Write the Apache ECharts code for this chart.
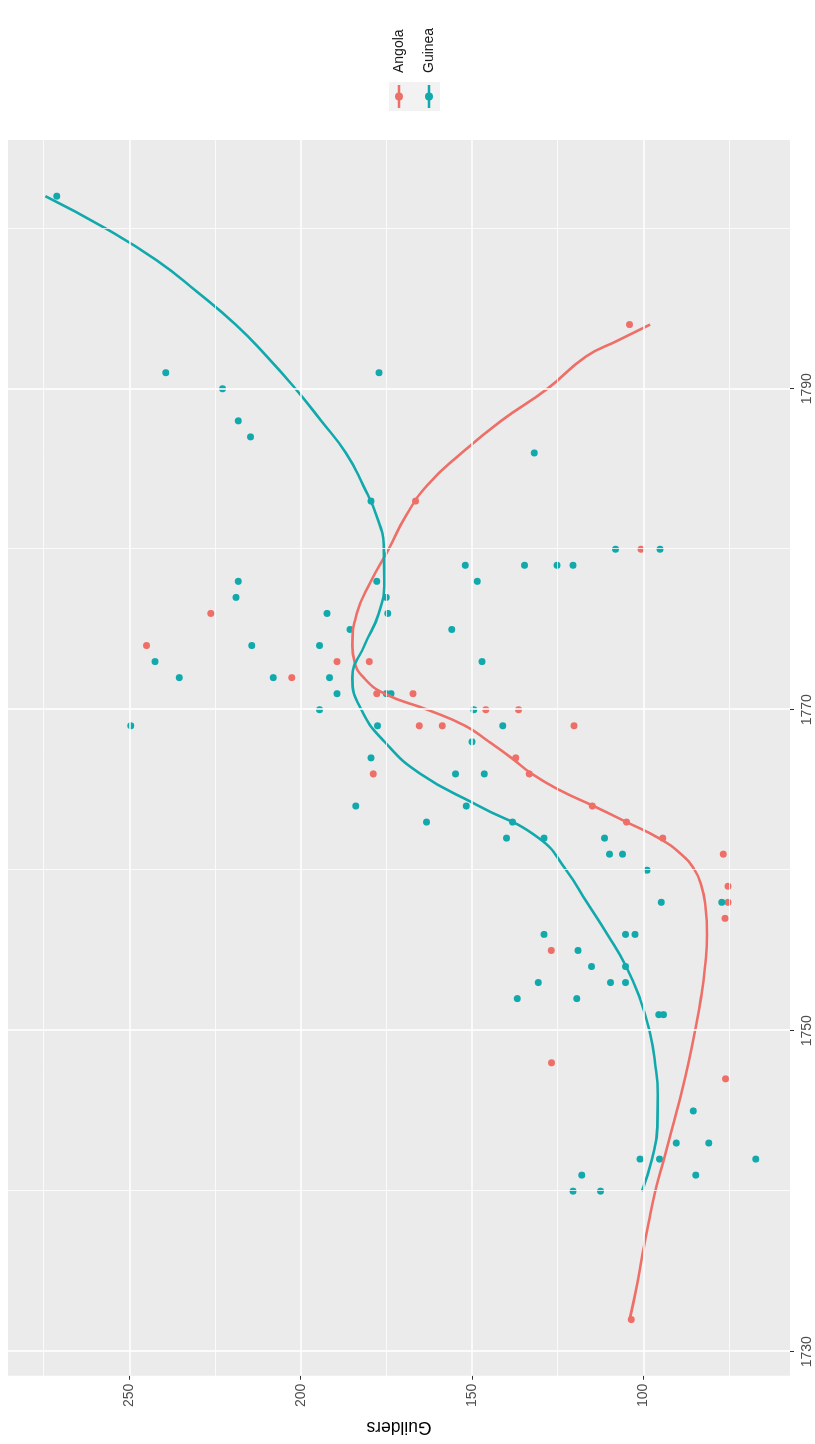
<!DOCTYPE html>
<html>
<head>
<meta charset="utf-8">
<script src="https://cdn.jsdelivr.net/npm/echarts@6/dist/echarts.min.js"></script>
<style>
html,body{margin:0;padding:0;background:#fff;}
#wrap{position:relative;width:815px;height:1444px;overflow:hidden;background:#fff;}
#chart{position:absolute;left:0;top:0;width:1444px;height:815px;transform-origin:0 0;transform:translateY(1444px) rotate(-90deg);}
</style>
</head>
<body>
<div id="wrap"><div id="chart"></div></div>
<script>
// ---- data ----
const seriesNames = ['Angola', 'Guinea'];
const yearTicks = [1730, 1750, 1770, 1790];
const yearMinor = [1740, 1760, 1780, 1800];
const guilderTicks = [100, 150, 200, 250];
const guilderMinor = [75, 125, 175, 225, 275];

const angolaYears  = [1732,1747,1748,1755,1757,1758,1759,1761,1762,1763,1764,1766,1766,1767,1769,1769,1769,1770,1770,1771,1771,1772,1773,1773,1774,1776,1780,1783,1794];
const angolaValues = [103.5,76,126.8,126.9,76.2,75.3,75.3,76.7,94.3,104.9,114.9,178.8,133.3,137.2,165.4,158.7,120.2,146,136.4,177.8,167.2,202.6,189.4,180,245,226.2,100.7,166.5,104];

const guineaYears  = [1740,1740,1741,1741,1742,1742,1742,1743,1743,1745,1751,1751,1752,1752,1753,1753,1753,1754,1754,1755,1756,1756,1756,1758,1758,1760,1761,1761,1762,1762,1762,1763,1763,1764,1764,1766,1766,1767,1768,1769,1769,1769,1770,1770,1771,1771,1771,1772,1772,1772,1773,1773,1774,1774,1775,1775,1776,1776,1777,1777,1778,1778,1778,1779,1779,1779,1779,1780,1780,1783,1786,1787,1788,1790,1791,1791,1802];
const guineaValues = [120.5,112.5,118,84.7,101,95.3,67.2,90.4,80.9,85.4,95.5,94.1,136.8,119.4,130.7,109.6,105.2,115.1,105.2,119.1,129,105.2,102.4,94.8,77.1,98.9,109.9,106.1,139.9,129,111.3,163.3,138.2,183.9,151.7,154.8,146.4,179.5,150,249.6,177.6,141,194.5,149.5,189.4,175,173.6,235.4,208,191.6,242.5,147.1,214.3,194.5,185.6,155.9,192.3,174.6,218.9,175,218.2,177.8,148.5,152,134.7,125.2,120.5,108.1,95.1,179.5,131.8,214.6,218.2,222.8,239.4,177.1,271.2];

// smoothed trend curves
const angolaFitYears  = [1732,1734,1736,1738,1740,1742,1744,1746,1748,1750,1752,1754,1756,1758,1759,1760,1761,1762,1763,1764,1765,1766,1767,1768,1769,1770,1771,1772,1773,1774,1776,1778,1780,1782,1784,1786,1788,1790,1792,1793,1794];
const angolaFitValues = [104,102,100.3,98.5,96.5,94,91.5,89,86.8,84.9,83.2,82,81.4,82,83,85,89,95.5,104.9,114.5,124.5,132.5,138.5,145,152,163,175.5,181.6,184.3,184.9,183.6,179.5,174.3,169.5,163,153,141.5,128,116.8,107.5,98];

const guineaFitYears  = [1740,1742,1744,1746,1748,1750,1752,1754,1756,1758,1760,1762,1764,1766,1768,1770,1772,1774,1776,1778,1780,1782,1784,1786,1788,1790,1792,1794,1796,1798,1800,1802];
const guineaFitValues = [100.4,97.5,95.9,95.8,96.6,98.2,101,105,110.5,116.5,122.5,130.5,148,165,175.5,182.3,184.9,181.4,177.2,175.6,175.7,177.7,181.8,186.8,194,201.5,209.8,219,230,242,257,274.5];

const colors = { Angola: '#EE6F68', Guinea: '#12A9AC' };

const zip = (xs, ys) => xs.map((x, i) => [x, ys[i]]);

const FONT = '"Liberation Sans", Arial, Helvetica, sans-serif';

const gridLines = [].concat(
  yearTicks.map(v => ({ xAxis: v, lineStyle: { width: 1.6 } })),
  yearMinor.map(v => ({ xAxis: v, lineStyle: { width: 0.8 } })),
  guilderTicks.map(v => ({ yAxis: v, lineStyle: { width: 1.6 } })),
  guilderMinor.map(v => ({ yAxis: v, lineStyle: { width: 0.8 } }))
);

const legendIcon = 'path://M0,2.8 L23,2.8 L23,5.2 L0,5.2 Z M15.5,4 A4,4 0 1,1 7.5,4 A4,4 0 1,1 15.5,4 Z';

const chart = echarts.init(document.getElementById('chart'), null, { width: 1444, height: 815 });
chart.setOption({
  animation: false,
  backgroundColor: '#fff',
  textStyle: { fontFamily: FONT },
  grid: {
    left: 62, right: 140, top: 8, bottom: 25,
    show: true, backgroundColor: '#EBEBEB', borderWidth: 0
  },
  graphic: [{
    type: 'rect', z: 0,
    shape: { x: 1333, y: 389, width: 29, height: 51 },
    style: { fill: '#F2F2F2' }
  }],
  legend: {
    orient: 'vertical',
    left: 1336, top: 392, padding: 0,
    itemWidth: 23, itemHeight: 8, itemGap: 16,
    data: seriesNames.map(n => ({ name: n, icon: legendIcon })),
    textStyle: { fontSize: 14, color: '#1a1a1a', fontFamily: FONT, padding: [0, 0, 0, 7] },
    selectedMode: false
  },
  xAxis: {
    type: 'value', min: 1728.5, max: 1805.5,
    axisLine: { show: false },
    axisTick: { show: true, customValues: yearTicks, length: 4, lineStyle: { color: '#333', width: 1 } },
    axisLabel: { customValues: yearTicks, formatter: v => String(v), color: '#4d4d4d', fontSize: 14, margin: 10, fontFamily: FONT },
    splitLine: { show: false }
  },
  yAxis: {
    type: 'value', min: 57.2, max: 285.4,
    name: 'Guilders', nameLocation: 'middle', nameRotate: 90, nameGap: 36,
    nameTextStyle: { fontSize: 17.5, color: '#000', fontFamily: FONT },
    axisLine: { show: false },
    axisTick: { show: true, customValues: guilderTicks, length: 4, lineStyle: { color: '#333', width: 1 } },
    axisLabel: { customValues: guilderTicks, formatter: v => String(v), color: '#4d4d4d', fontSize: 14, margin: 8, fontFamily: FONT },
    splitLine: { show: false }
  },
  series: [
    {
      name: '_grid', type: 'scatter', data: [], z: 1, silent: true,
      markLine: {
        silent: true, symbol: ['none', 'none'], label: { show: false },
        lineStyle: { color: '#ffffff', type: 'solid' },
        emphasis: { disabled: true },
        data: gridLines
      }
    },
    {
      name: 'Angola', type: 'scatter', data: zip(angolaYears, angolaValues),
      symbol: 'circle', symbolSize: 7, z: 3,
      itemStyle: { color: colors.Angola, opacity: 1 }
    },
    {
      name: 'Guinea', type: 'scatter', data: zip(guineaYears, guineaValues),
      symbol: 'circle', symbolSize: 7, z: 3,
      itemStyle: { color: colors.Guinea, opacity: 1 }
    },
    {
      name: 'Angola', type: 'line', data: zip(angolaFitYears, angolaFitValues),
      smooth: 0.5, showSymbol: false, symbol: 'none', z: 4,
      lineStyle: { color: colors.Angola, width: 2.6 },
      itemStyle: { color: colors.Angola }
    },
    {
      name: 'Guinea', type: 'line', data: zip(guineaFitYears, guineaFitValues),
      smooth: 0.5, showSymbol: false, symbol: 'none', z: 4,
      lineStyle: { color: colors.Guinea, width: 2.6 },
      itemStyle: { color: colors.Guinea }
    }
  ]
});
</script>
</body>
</html>
